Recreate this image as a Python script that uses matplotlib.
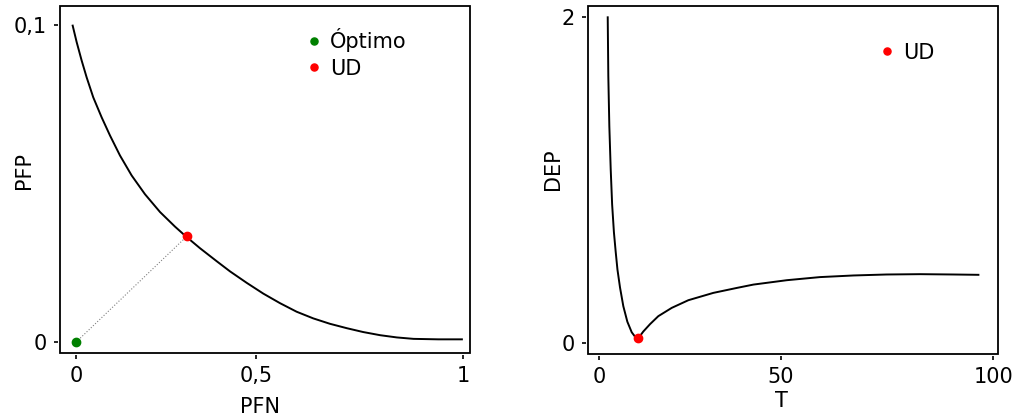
import matplotlib
matplotlib.use("Agg")
import matplotlib.pyplot as plt

# Data
pfn = [-0.0085, 0.0018, 0.0147, 0.0276, 0.0447, 0.0664, 0.0879, 0.1137, 0.1439, 0.1783,
       0.2171, 0.2558, 0.2842, 0.3204, 0.3636, 0.398, 0.441, 0.484, 0.527, 0.570, 0.613,
       0.656, 0.700, 0.742, 0.786, 0.829, 0.872, 0.936, 0.997]
pfp = [0.0997, 0.0945, 0.0887, 0.0834, 0.0771, 0.0708, 0.0651, 0.0588, 0.0525, 0.0466,
       0.0410, 0.0364, 0.0333, 0.0296, 0.0255, 0.0223, 0.0187, 0.0153, 0.0123, 0.0096, 0.0075,
       0.0058, 0.0044, 0.0032, 0.0022, 0.0015, 0.00105, 0.0009, 0.0009]
optimo = (0.0, 0.0)
ud_left = (0.286, 0.0333)

t_vals = [2.13, 2.28, 2.54, 2.89, 3.25, 3.70, 4.15, 4.60, 5.25, 6.09, 7.11, 8.22, 9.00, 9.75,
          10.40, 11.17, 12.87, 14.97, 18.38, 22.59, 28.93, 35.0, 39.1, 47.6, 56.0, 64.5, 72.9,
          81.4, 89.8, 96.2]
dep = [2.0, 1.638, 1.330, 1.065, 0.850, 0.680, 0.560, 0.450, 0.340, 0.225, 0.130, 0.065, 0.040,
       0.028, 0.045, 0.070, 0.115, 0.164, 0.215, 0.262, 0.307, 0.338, 0.358, 0.385, 0.404, 0.414,
       0.420, 0.422, 0.420, 0.418]
ud_right = (9.75, 0.031)

left_xticks = [0, 0.465, 1.0]
left_xlabels = ['0', '0,5', '1']
left_yticks = [0, 0.1]
left_ylabels = ['0', '0,1']
right_xticks = [0, 46.1, 100]
right_xlabels = ['0', '50', '100']
right_yticks = [0, 2]
right_ylabels = ['0', '2']

plt.rcParams['font.size'] = 15

fig = plt.figure(figsize=(10.2, 4.16), dpi=100)
ax1 = fig.add_axes([0.0588, 0.151, 0.402, 0.834])
ax2 = fig.add_axes([0.5768, 0.150, 0.402, 0.835])


def style(ax):
    # ticks sit slightly away from the frame
    for s in ['left', 'bottom']:
        ax.spines[s].set_position(('outward', 1.5))
    for s in ax.spines.values():
        s.set_visible(False)
    ax.patch.set_edgecolor('black')
    ax.patch.set_linewidth(1.3)
    ax.tick_params(length=3, width=1.2, pad=5, labelsize=15)


# left: PFP vs PFN
ax1.plot(pfn, pfp, color='black', lw=1.4, solid_joinstyle='round')
ax1.plot([optimo[0], ud_left[0]], [optimo[1], ud_left[1]], color='gray', lw=0.8, ls=':')
ax1.plot(*optimo, 'o', color='green', ms=6, label='Óptimo')
ax1.plot(*ud_left, 'o', color='red', ms=6, label='UD')
ax1.set_xlim(-0.0413, 1.018)
ax1.set_ylim(-0.00346, 0.1058)
ax1.set_xticks(left_xticks, left_xlabels)
ax1.set_yticks(left_yticks, left_ylabels)
ax1.set_xlabel('PFN', fontsize=15)
ax1.set_ylabel('PFP', fontsize=15)
ax1.xaxis.set_label_coords(0.488, -0.127)
ax1.yaxis.set_label_coords(-0.064, 0.527)
ax1.legend(loc='upper left', bbox_to_anchor=(0.573, 0.99), frameon=False,
           handlelength=0, handletextpad=0.8, labelspacing=0.3, markerscale=0.85)
style(ax1)

# right: DEP vs T
ax2.plot(t_vals, dep, color='black', lw=1.4, solid_joinstyle='round')
ax2.plot(*ud_right, 'o', color='red', ms=6, label='UD')
ax2.set_xlim(-2.79, 101.27)
ax2.set_ylim(-0.066, 2.068)
ax2.set_xticks(right_xticks, right_xlabels)
ax2.set_yticks(right_yticks, right_ylabels)
ax2.set_xlabel('T', fontsize=15)
ax2.set_ylabel('DEP', fontsize=15)
ax2.xaxis.set_label_coords(0.472, -0.108)
ax2.yaxis.set_label_coords(-0.063, 0.53)
ax2.legend(loc='upper left', bbox_to_anchor=(0.682, 0.949), frameon=False,
           handlelength=0, handletextpad=0.8, markerscale=0.85)
style(ax2)

fig.savefig('out.png', dpi=100)
